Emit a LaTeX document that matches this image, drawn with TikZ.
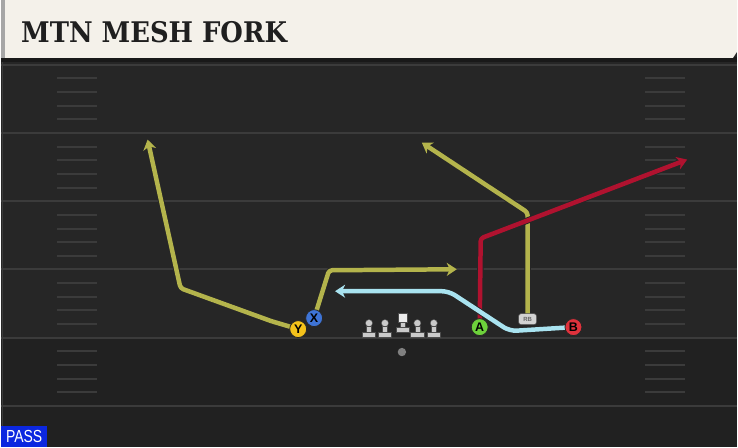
\documentclass[tikz,border=0pt]{standalone}
\usepackage{fontspec}
\setmainfont{Liberation Sans}
\newfontfamily\titlefont[FakeStretch=0.91]{DejaVu Serif}
\newfontfamily\tagfont[FakeStretch=0.8]{Liberation Sans}
\usetikzlibrary{arrows.meta, positioning}
\pgfdeclarelayer{field}
\pgfdeclarelayer{routes}
\pgfsetlayers{field,routes,main}
\definecolor{paper}{HTML}{F4F1EA}
\definecolor{turf}{HTML}{262626}
\definecolor{turfdark}{HTML}{212121}
\definecolor{chalk}{HTML}{3B3B3B}
\definecolor{olive}{HTML}{B4B44C}
\definecolor{crimson}{HTML}{B0122F}
\definecolor{skyblue}{HTML}{A9E3F0}
\definecolor{ycol}{HTML}{F4C21B}
\definecolor{xcol}{HTML}{3E74D6}
\definecolor{acol}{HTML}{6DD13B}
\definecolor{bcol}{HTML}{E0323C}
\definecolor{lineman}{HTML}{CACACA}
\definecolor{passblue}{HTML}{0B27E0}
\tikzstyle{player} = [circle, draw=black!85, line width=0.8pt, minimum size=17pt, inner sep=0pt, font=\bfseries\fontsize{12.5}{12.5}\selectfont]
\tikzstyle{back} = [rectangle, rounded corners=2.5pt, draw=black!70, line width=0.6pt, fill=lineman!85, minimum width=18pt, minimum height=11pt, inner sep=0pt, font=\bfseries\fontsize{6}{6}\selectfont, text=black!60]
\tikzstyle{route} = [line width=4.5pt, line join=round, rounded corners=3pt, -{Stealth[length=10pt, width=13pt, inset=3pt]}, preaction={draw=black!85, line width=6.4pt, -{Stealth[length=11.5pt, width=15.5pt, inset=3pt]}}]
\tikzstyle{hash} = [chalk, line width=2pt]
\tikzstyle{yardline} = [chalk, line width=2pt]
\tikzstyle{pin} = [lineman, draw=black!70, line width=0.4pt]

\begin{document}
\begin{tikzpicture}[x=1pt, y=-1pt]

% Field and header
\begin{pgfonlayer}{field}
\fill[turf] (0,0) rectangle (738,448);
\fill[turfdark] (0,338) rectangle (738,448);
\foreach \k in {0,...,5}
  \draw[yardline] (0,65+68.4*\k) -- (738,65+68.4*\k);
\foreach \k in {0,...,4}
  \foreach \j in {1,...,4} {
    \draw[hash] (56,65+68.4*\k+13.7*\j) -- (96,65+68.4*\k+13.7*\j);
    \draw[hash] (646,65+68.4*\k+13.7*\j) -- (686,65+68.4*\k+13.7*\j);
  }
\draw[chalk, line width=1pt] (1.5,62) -- (1.5,448);
\fill[black!90] (0,57) rectangle (738,62);
\fill[paper] (0,0) -- (738,0) -- (738,52) -- (734,58) -- (0,58) -- cycle;
\fill[black!35] (0,0) rectangle (4,58);
\end{pgfonlayer}
\node[anchor=base west, inner sep=0pt, font=\titlefont\bfseries\fontsize{28.5}{30}\selectfont, text=black!88] (title) at (20,43) {MTN MESH FORK};

% Line
\foreach \x in {369,385,417.5,434} {
  \filldraw[pin] (\x,324) circle (3.6);
  \filldraw[pin] (\x-2.4,327) rectangle (\x+2.4,334);
  \filldraw[pin] (\x-6.7,333) rectangle (\x+6.7,338);
}
\filldraw[pin, fill=white!92!black] (398,314) rectangle (407,323);
\filldraw[pin] (400.1,323) rectangle (404.9,329);
\filldraw[pin] (396,328) rectangle (409,333);
\fill[black!50] (402,353) circle (4.2);

% Nodes
\node[player, fill=ycol] (Y) at (298,330) {Y};
\node[player, fill=xcol] (X) at (314,319) {X};
\node[player, fill=acol] (A) at (480,328) {A};
\node[player, fill=bcol] (B) at (574,328) {B};
\node[back] (RB) at (528,320) {RB};

% Route points
\coordinate (y1) at (271,322);
\coordinate (y2) at (180,289);
\coordinate (yend) at (147,140);
\coordinate (x1) at (329,271);
\coordinate (xend) at (457,270);
\coordinate (rb1) at (528,213);
\coordinate (rbend) at (422,143);
\coordinate (a1) at (481,239);
\coordinate (aend) at (688,160);
\coordinate (b1) at (510,332);
\coordinate (b2) at (449,292);
\coordinate (bend) at (335,292);

% Arrows
\begin{pgfonlayer}{routes}
\draw[route, olive] (Y.center) -- (y1) -- (y2) -- (yend);
\draw[route, olive] (X.center) -- (x1) -- (xend);
\draw[route, olive] (RB.center) -- (rb1) -- (rbend);
\draw[route, crimson] (A.center) -- (a1) -- (aend);
\draw[route, skyblue, rounded corners=7pt] (B.center) -- (b1) -- (b2) -- (bend);
\end{pgfonlayer}

% Play type
\node[anchor=south west, fill=passblue, minimum width=46pt, minimum height=21pt, inner sep=0pt, text=white, font=\tagfont\fontsize{17.5}{17.5}\selectfont] (play) at (0,448) {PASS};

\end{tikzpicture}
\end{document}
